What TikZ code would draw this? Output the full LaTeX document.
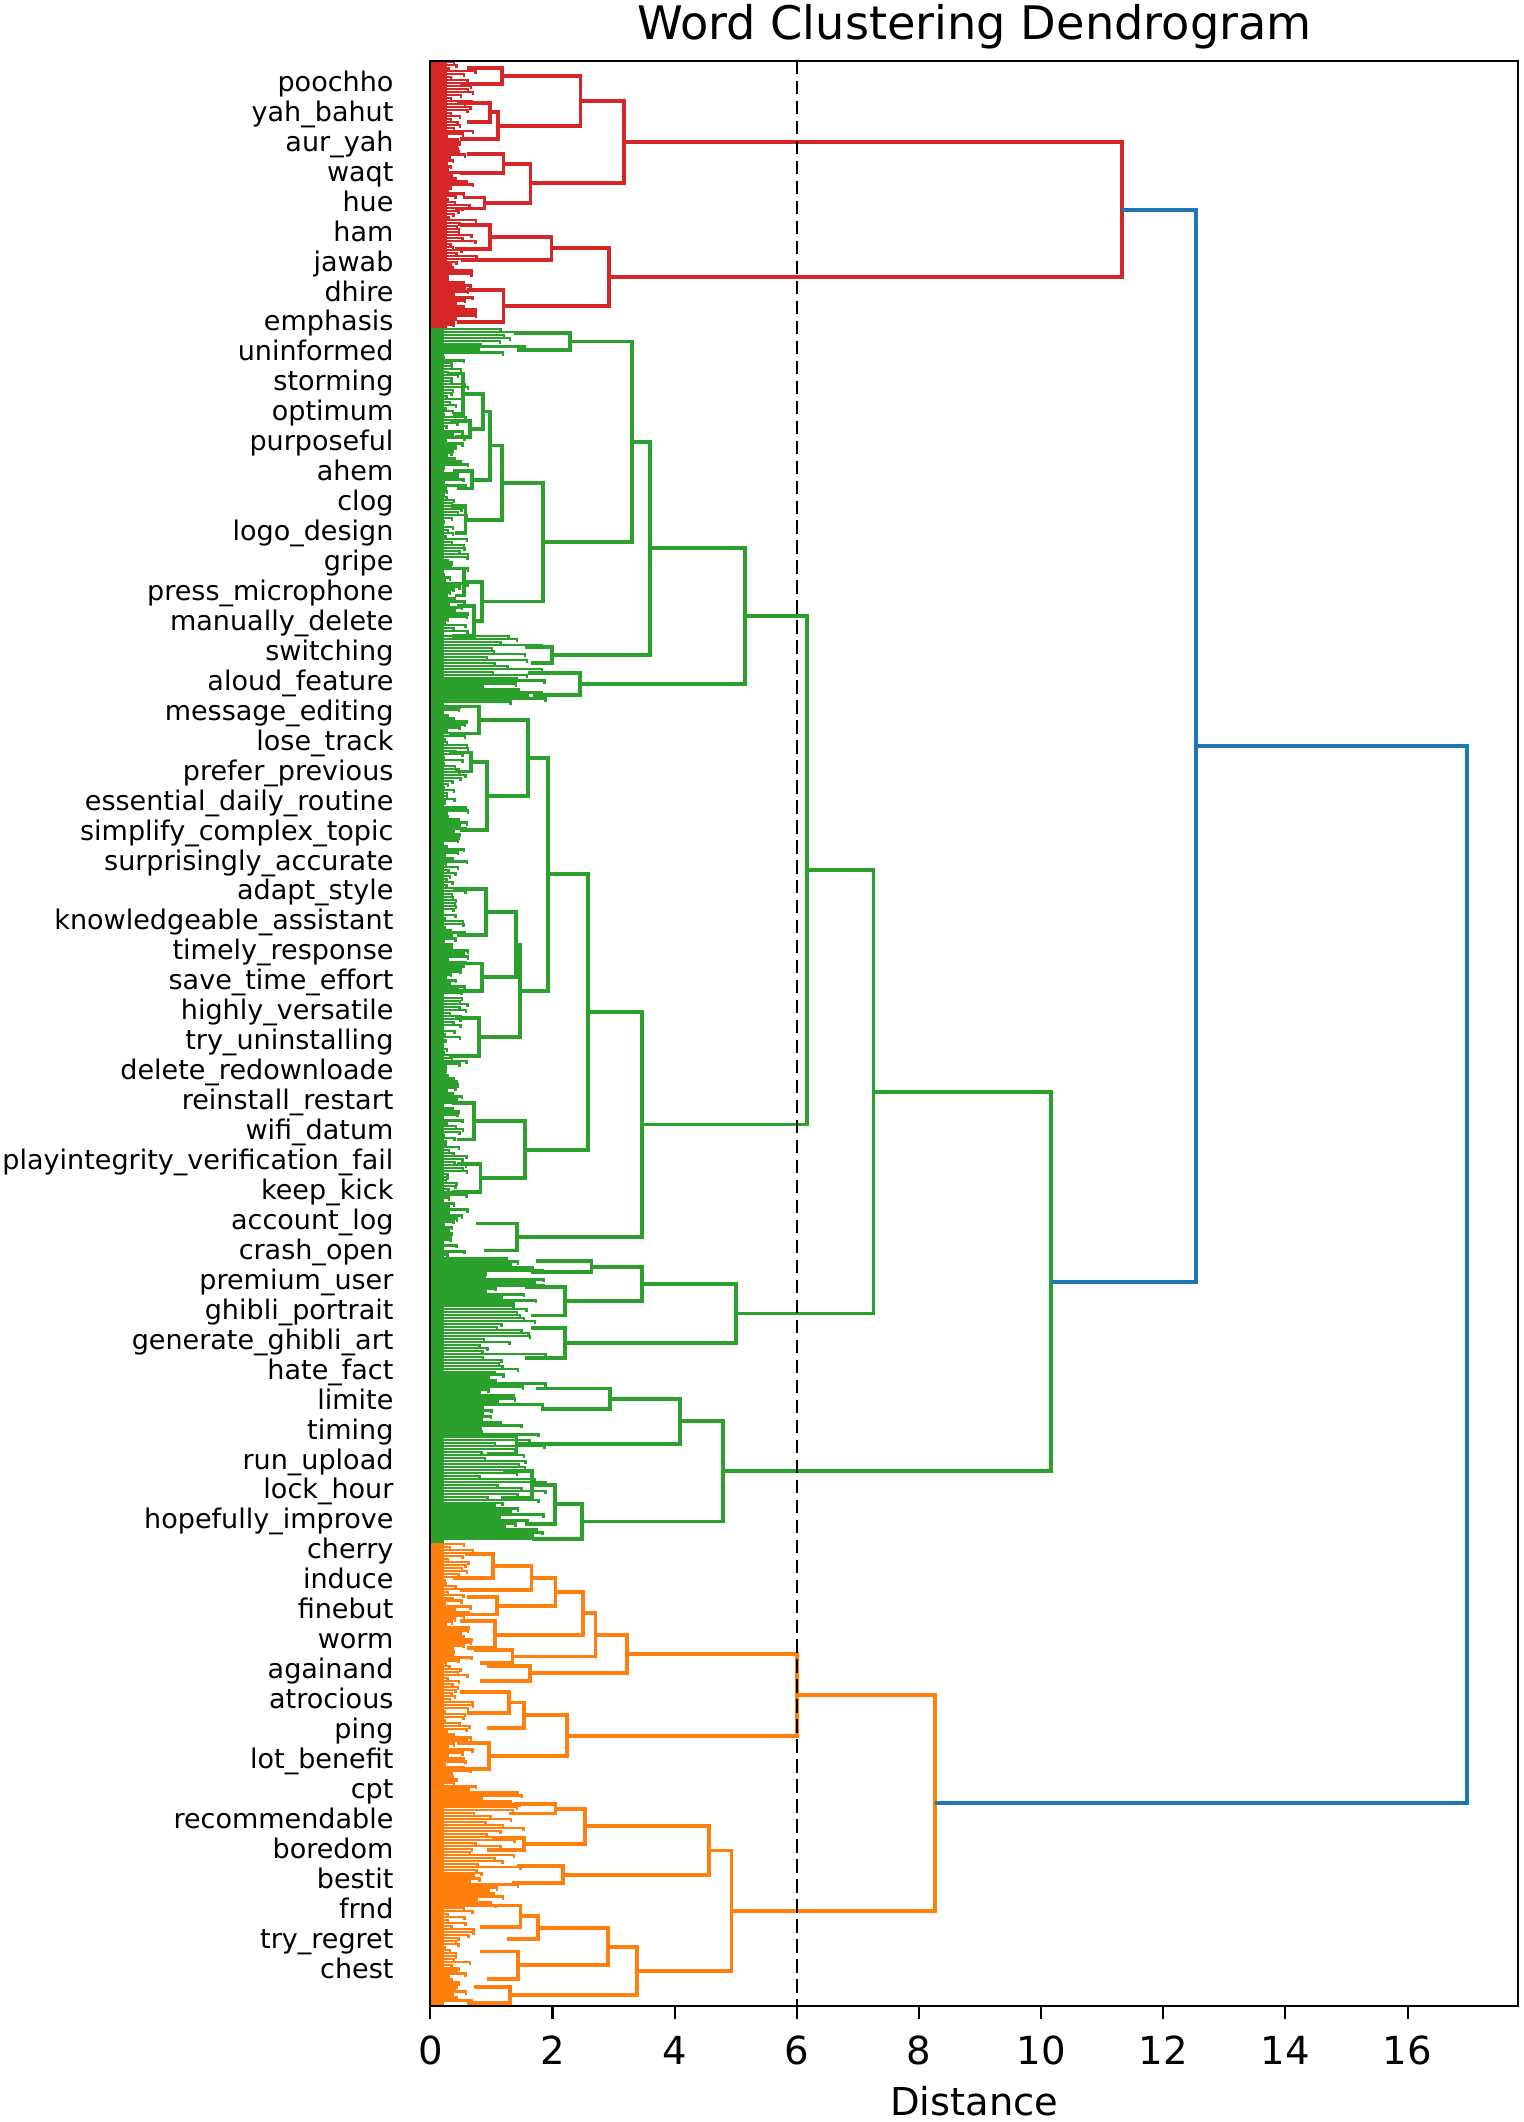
\documentclass[tikz,border=0pt]{standalone}
\usepackage{fontspec}
\setmainfont{DejaVu Sans}
\usetikzlibrary{positioning}
\definecolor{dred}{RGB}{214,39,40}
\definecolor{dgreen}{RGB}{44,160,44}
\definecolor{dorange}{RGB}{255,127,14}
\definecolor{dblue}{RGB}{31,119,180}
\newcommand{\dlink}[6]{\draw[#1] (#2,#3) -- (#4,#3) -- (#4,#6) -- (#5,#6);}

\begin{document}
\begin{tikzpicture}[x=0.025cm,y=-0.025cm,line join=miter,
    redlink/.style={dred,line width=2pt},
    greenlink/.style={dgreen,line width=2pt},
    orangelink/.style={dorange,line width=2pt},
    bluelink/.style={dblue,line width=2pt},
    fringe/.style={line width=1.3pt},
    frame/.style={black,line width=1.1pt},
    cut/.style={black,line width=1.1pt,dash pattern=on 7pt off 3.5pt},
    wordlab/.style={anchor=base east,inner sep=0pt,font=\fontsize{14.2}{16}\selectfont},
    ticklab/.style={anchor=base,inner sep=0pt,font=\fontsize{20.3}{22}\selectfont}]

  \useasboundingbox (0,0) rectangle (1126,1568);

  % leaf fringe
  \fill[dred] (318,45) rectangle (330,242);
  \fill[dgreen] (318,242) rectangle (328,1140);
  \fill[dorange] (318,1140) rectangle (328,1482);
  \pgfmathsetseed{42}
  \foreach \ya/\yb/\bs/\mx/\cc in {46/240/12/22/dred, 243/262/32/42/dgreen,
      264/468/8/20/dgreen, 470/520/38/50/dgreen, 522/928/8/20/dgreen,
      930/1138/36/50/dgreen, 1141/1318/10/22/dorange, 1320/1408/28/44/dorange,
      1410/1479/10/22/dorange}{
    \pgfmathsetmacro{\yc}{\ya+2.2}
    \foreach \yy in {\ya,\yc,...,\yb}{
      \pgfmathsetmacro{\len}{\bs+\mx*rnd}
      \draw[fringe,color=\cc] (318,\yy) -- ++(\len,0) -- ++(0,2.2);
    }
  }

  % red cluster
  \dlink{redlink}{345}{50}{371}{340}{62}
  \dlink{redlink}{338}{76}{362}{345}{90}
  \dlink{redlink}{362}{83}{368}{340}{103}
  \dlink{redlink}{371}{56}{429}{368}{93}
  \dlink{redlink}{345}{114}{372}{340}{128}
  \dlink{redlink}{342}{146}{358}{336}{154}
  \dlink{redlink}{372}{121}{392}{358}{150}
  \dlink{redlink}{429}{74.5}{461}{392}{135.5}
  \dlink{redlink}{340}{166}{362}{336}{184}
  \dlink{redlink}{362}{175}{407.5}{341}{192}
  \dlink{redlink}{345}{214}{372}{338}{238}
  \dlink{redlink}{407.5}{183.5}{450}{372}{226}
  \dlink{redlink}{461}{105}{829}{450}{204.75}

  % green cluster
  \dlink{greenlink}{380}{246}{421}{382}{258.6}
  \dlink{greenlink}{330}{276}{342}{335}{306}
  \dlink{greenlink}{333}{311}{347}{336}{323}
  \dlink{greenlink}{342}{291}{357}{347}{317}
  \dlink{greenlink}{335}{348}{349}{338}{361}
  \dlink{greenlink}{357}{304}{362}{349}{354.5}
  \dlink{greenlink}{333}{374}{344}{336}{394}
  \dlink{greenlink}{362}{329.25}{370.7}{344}{384}
  \dlink{greenlink}{332}{420}{343}{336}{440}
  \dlink{greenlink}{338}{448}{350}{334}{470}
  \dlink{greenlink}{343}{430}{355.9}{350}{459}
  \dlink{greenlink}{370.7}{356.6}{401.3}{355.9}{444.5}
  \dlink{greenlink}{421}{252.3}{466.7}{401.3}{400.55}
  \dlink{greenlink}{388}{478}{407.6}{392}{490}
  \dlink{greenlink}{466.7}{326.4}{480.2}{407.6}{484}
  \dlink{greenlink}{390}{497.5}{428.5}{394}{513.5}
  \dlink{greenlink}{480.2}{405.2}{550.4}{428.5}{505.5}
  \dlink{greenlink}{336}{522}{354}{332}{542}
  \dlink{greenlink}{332}{556}{348}{336}{570}
  \dlink{greenlink}{348}{563}{360}{340}{613}
  \dlink{greenlink}{354}{532}{390.3}{360}{588}
  \dlink{greenlink}{335}{657}{359}{338}{691}
  \dlink{greenlink}{340}{712}{356}{334}{732}
  \dlink{greenlink}{359}{674}{381}{356}{722}
  \dlink{greenlink}{336}{752}{354}{332}{780}
  \dlink{greenlink}{381}{698}{384.5}{354}{766}
  \dlink{greenlink}{390.3}{560}{405.1}{384.5}{732}
  \dlink{greenlink}{334}{815}{350}{338}{842}
  \dlink{greenlink}{338}{860}{355}{334}{881}
  \dlink{greenlink}{350}{828.5}{388}{355}{870.5}
  \dlink{greenlink}{405.1}{646}{434.7}{388}{849.5}
  \dlink{greenlink}{352}{904}{382}{358}{924}
  \dlink{greenlink}{434.7}{747.75}{474.1}{382}{914}
  \dlink{greenlink}{550.4}{455.35}{596.3}{474.1}{830.9}
  \dlink{greenlink}{396}{932}{437}{392}{940}
  \dlink{greenlink}{388}{951}{417.4}{392}{972}
  \dlink{greenlink}{437}{936}{474.1}{417.4}{961.5}
  \dlink{greenlink}{392}{981.5}{417.4}{388}{1003.5}
  \dlink{greenlink}{474.1}{948.75}{543.6}{417.4}{992.5}
  \dlink{greenlink}{596.3}{643.1}{645.4}{543.6}{970.6}
  \dlink{greenlink}{396}{1026}{450.7}{400}{1041}
  \dlink{greenlink}{365}{1060}{381.7}{360}{1074}
  \dlink{greenlink}{450.7}{1033.5}{502.4}{381.7}{1067}
  \dlink{greenlink}{372}{1087}{393}{370}{1107}
  \dlink{greenlink}{393}{1097}{410}{388}{1126}
  \dlink{greenlink}{410}{1111.5}{429.8}{393}{1137}
  \dlink{greenlink}{502.4}{1050.25}{534.2}{429.8}{1124.25}
  \dlink{greenlink}{645.4}{806.85}{776.5}{534.2}{1087.2}

  % orange cluster
  \dlink{orangelink}{345}{1148}{364.5}{335}{1166}
  \dlink{orangelink}{364.5}{1157}{392.8}{340}{1175}
  \dlink{orangelink}{345}{1180}{367}{340}{1193}
  \dlink{orangelink}{392.8}{1166}{410.5}{367}{1186.5}
  \dlink{orangelink}{340}{1198}{366}{345}{1218}
  \dlink{orangelink}{410.5}{1176.25}{430.5}{366}{1208}
  \dlink{orangelink}{350}{1219}{378.7}{355}{1229}
  \dlink{orangelink}{430.5}{1192.1}{440}{378.7}{1224}
  \dlink{orangelink}{360}{1231}{391.6}{355}{1242}
  \dlink{orangelink}{440}{1208}{463.3}{391.6}{1236.5}
  \dlink{orangelink}{340}{1250}{376}{345}{1266}
  \dlink{orangelink}{376}{1258}{387.3}{360}{1277}
  \dlink{orangelink}{338}{1288}{361.6}{342}{1307}
  \dlink{orangelink}{387.3}{1267.5}{419.2}{361.6}{1297.5}
  \dlink{orangelink}{463.3}{1222.25}{588.9}{419.2}{1282.5}
  \dlink{orangelink}{380}{1333}{410.5}{376}{1340}
  \dlink{orangelink}{365}{1358}{387.3}{360}{1367}
  \dlink{orangelink}{410.5}{1336.5}{432}{387.3}{1362.5}
  \dlink{orangelink}{382}{1379}{416.2}{378}{1391.5}
  \dlink{orangelink}{432}{1349.5}{523.6}{416.2}{1385.25}
  \dlink{orangelink}{350}{1408}{384.6}{355}{1424}
  \dlink{orangelink}{384.6}{1416}{397.3}{375}{1433}
  \dlink{orangelink}{355}{1442}{382.7}{360}{1462.5}
  \dlink{orangelink}{397.3}{1424.5}{449.4}{382.7}{1452.25}
  \dlink{orangelink}{350}{1468}{376.6}{345}{1480}
  \dlink{orangelink}{449.4}{1438.4}{470.8}{376.6}{1474}
  \dlink{orangelink}{523.6}{1367.4}{540.5}{470.8}{1456.2}
  \dlink{orangelink}{588.9}{1252.4}{690.6}{540.5}{1411.8}

  % top links
  \dlink{bluelink}{829}{154.9}{884}{776.5}{947.1}
  \dlink{bluelink}{884}{551}{1083.7}{690.6}{1332.1}

  % threshold
  \draw[cut] (588.8,45) -- (588.8,1482);

  % axes
  \draw[frame] (318,45) rectangle (1122,1482);
  \foreach \k in {0,2,...,16}{
    \draw[frame] ({318+45.13*\k},1482) -- ++(0,10);
    \node[ticklab] (t\k) at ({318+45.13*\k},1525.5) {\k};
  }
  \foreach \w [count=\i from 0] in {poochho, yah\_bahut, aur\_yah, waqt, hue, ham,
      jawab, dhire, emphasis, uninformed, storming, optimum, purposeful, ahem, clog,
      logo\_design, gripe, press\_microphone, manually\_delete, switching,
      aloud\_feature, message\_editing, lose\_track, prefer\_previous,
      essential\_daily\_routine, simplify\_complex\_topic, surprisingly\_accurate,
      adapt\_style, knowledgeable\_assistant, timely\_response, save\_time\_effort,
      highly\_versatile, try\_uninstalling, delete\_redownloade, reinstall\_restart,
      wifi\_datum, playintegrity\_verification\_fail, keep\_kick, account\_log,
      crash\_open, premium\_user, ghibli\_portrait, generate\_ghibli\_art,
      hate\_fact, limite, timing, run\_upload, lock\_hour, hopefully\_improve,
      cherry, induce, finebut, worm, againand, atrocious, ping, lot\_benefit, cpt,
      recommendable, boredom, bestit, frnd, try\_regret, chest}
    \node[wordlab] (w\i) at (291,{67.5+22.13*\i}) {\w};

  \node[anchor=base,inner sep=0pt,font=\fontsize{20.2}{22}\selectfont] (xlab) at (720,1563) {Distance};
  \node[anchor=base,inner sep=0pt,font=\fontsize{24.3}{26}\selectfont] (title) at (720,29) {Word Clustering Dendrogram};
\end{tikzpicture}
\end{document}
